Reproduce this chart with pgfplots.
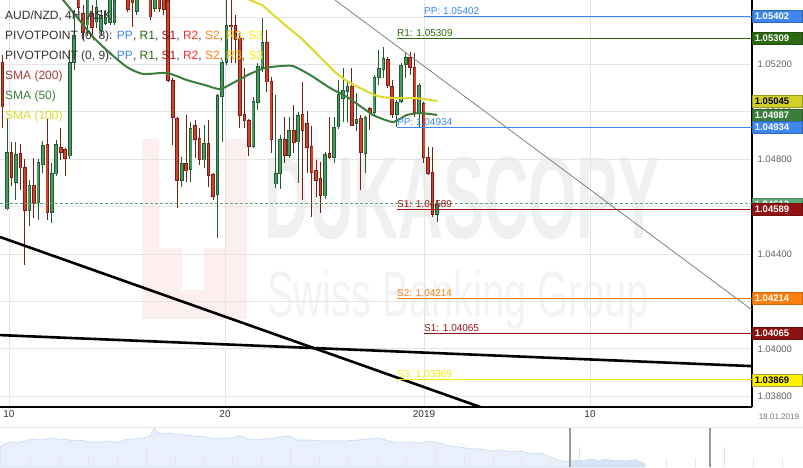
\documentclass[border=0pt]{standalone}
\usepackage{pgfplots}
\pgfplotsset{compat=1.18}
\usepackage{pgfplotstable}
\usepackage{graphicx}
\usepackage{fontspec}
\setmainfont{Liberation Sans}

\definecolor{gbody}{HTML}{4C9A63}
\definecolor{gdark}{HTML}{1F5A30}
\definecolor{rbody}{HTML}{D2432C}
\definecolor{rdark}{HTML}{7A1D12}
\definecolor{ppblue}{HTML}{3D87EE}
\definecolor{r1green}{HTML}{2B6A12}
\definecolor{s1red}{HTML}{A31515}
\definecolor{r2red}{HTML}{FF2A2A}
\definecolor{s2orange}{HTML}{FF7F0F}
\definecolor{r3gold}{HTML}{F0C000}
\definecolor{s3yellow}{HTML}{F5EE00}
\definecolor{sma50}{HTML}{3B7D3B}
\definecolor{sma100}{HTML}{DCDA2A}
\definecolor{sma200}{HTML}{A83A3A}
\definecolor{gridc}{HTML}{E4E4E4}
\definecolor{cur}{HTML}{5FA878}
\definecolor{txt}{HTML}{333333}
\definecolor{wmpink}{HTML}{FDEFEF}
\definecolor{wmgray}{HTML}{F0F0F0}
\definecolor{wmgray2}{HTML}{F3F3F3}
\definecolor{navfill}{HTML}{E9F0FB}
\definecolor{navsel}{HTML}{D6E4F8}
\definecolor{navline}{HTML}{C5D7F2}

% candles: i = candle number (x pixel = 2.5 + 4.48 i), O H L C
\pgfplotstableread{
i O H L C
1 1.04590 1.04974 1.04585 1.04831
3 1.04704 1.04873 1.04628 1.04822
6 1.04582 1.04712 1.04518 1.04691
8 1.04615 1.04801 1.04544 1.04788
9 1.04780 1.04877 1.04742 1.04860
11 1.04577 1.04784 1.04531 1.04742
12 1.04738 1.04881 1.04729 1.04864
15 1.04814 1.05261 1.04800 1.05210
16 1.05210 1.05430 1.05177 1.05324
19 1.05367 1.05535 1.05320 1.05493
21 1.05379 1.05493 1.05354 1.05442
22 1.05345 1.05430 1.05320 1.05409
23 1.05375 1.05430 1.05367 1.05400
24 1.05379 1.05514 1.05367 1.05493
25 1.05379 1.05514 1.05367 1.05472
27 1.05514 1.05599 1.05493 1.05577
30 1.05421 1.05535 1.05409 1.05493
31 1.05485 1.05577 1.05472 1.05556
34 1.05438 1.05523 1.05421 1.05493
40 1.04712 1.04809 1.04683 1.04784
42 1.04755 1.04957 1.04704 1.04932
45 1.04797 1.04944 1.04763 1.04869
48 1.04649 1.05075 1.04468 1.05071
49 1.05063 1.05219 1.04873 1.05210
50 1.05210 1.05480 1.05198 1.05366
56 1.04856 1.05063 1.04850 1.05046
57 1.05042 1.05206 1.05008 1.05193
58 1.05189 1.05396 1.05168 1.05295
61 1.04696 1.05071 1.04679 1.04742
62 1.04738 1.04902 1.04675 1.04885
64 1.04814 1.04978 1.04805 1.04923
66 1.04873 1.04999 1.04700 1.04987
72 1.04645 1.04831 1.04632 1.04822
74 1.04809 1.04978 1.04784 1.04936
75 1.04936 1.05134 1.04930 1.05075
76 1.05058 1.05185 1.04957 1.05092
77 1.05084 1.05134 1.04957 1.05109
79 1.04949 1.05080 1.04919 1.04970
81 1.04826 1.04982 1.04742 1.04978
83 1.04999 1.05156 1.04987 1.05147
84 1.05147 1.05261 1.05113 1.05185
85 1.05177 1.05274 1.05143 1.05227
88 1.04987 1.05050 1.04936 1.05042
89 1.05042 1.05206 1.05037 1.05198
90 1.05198 1.05253 1.05143 1.05231
93 1.04995 1.05122 1.04936 1.05113
97 1.04565 1.04628 1.04535 1.04612
}\greenc

\pgfplotstableread{
i O H L C
0 1.05210 1.05240 1.04932 1.05020
2 1.04831 1.04873 1.04691 1.04721
4 1.04826 1.04864 1.04670 1.04763
5 1.04767 1.04801 1.04354 1.04582
7 1.04691 1.04805 1.04552 1.04615
10 1.04864 1.04970 1.04544 1.04577
13 1.04852 1.04932 1.04797 1.04831
14 1.04843 1.04847 1.04729 1.04805
17 1.05493 1.05535 1.05409 1.05442
18 1.05417 1.05451 1.05303 1.05333
20 1.05417 1.05451 1.05312 1.05354
26 1.05556 1.05577 1.05485 1.05506
28 1.05493 1.05535 1.05421 1.05430
29 1.05506 1.05535 1.05358 1.05459
32 1.05556 1.05577 1.05480 1.05493
33 1.05493 1.05523 1.05388 1.05400
35 1.05493 1.05514 1.05421 1.05438
36 1.05485 1.05506 1.05409 1.05430
37 1.05472 1.05493 1.05126 1.05134
38 1.05134 1.05142 1.04860 1.04974
39 1.04974 1.04978 1.04594 1.04712
41 1.04784 1.04987 1.04704 1.04750
43 1.04944 1.04966 1.04805 1.04885
44 1.04890 1.04932 1.04776 1.04797
46 1.04869 1.04966 1.04683 1.04733
47 1.04738 1.04742 1.04628 1.04645
51 1.05366 1.05480 1.05206 1.05358
52 1.05366 1.05409 1.05206 1.05303
53 1.05312 1.05333 1.04932 1.04987
54 1.04991 1.05185 1.04932 1.04961
55 1.04966 1.04970 1.04814 1.04856
59 1.05295 1.05345 1.05084 1.05126
60 1.05130 1.05147 1.04826 1.04885
63 1.04885 1.04978 1.04784 1.04814
65 1.04923 1.05029 1.04826 1.04869
67 1.04991 1.05126 1.04628 1.04919
68 1.04953 1.05004 1.04742 1.04852
69 1.04856 1.04940 1.04556 1.04742
70 1.04755 1.04797 1.04641 1.04712
71 1.04721 1.04788 1.04573 1.04645
73 1.04826 1.04978 1.04801 1.04809
78 1.05109 1.05185 1.04940 1.04944
80 1.04974 1.04987 1.04670 1.04826
82 1.05016 1.05020 1.04923 1.04999
86 1.05223 1.05231 1.05101 1.05113
87 1.05109 1.05134 1.04974 1.04987
91 1.05231 1.05253 1.05156 1.05185
92 1.05189 1.05248 1.04978 1.04995
94 1.05037 1.05042 1.04784 1.04809
95 1.04809 1.04852 1.04735 1.04742
96 1.04746 1.04852 1.04556 1.04565
}\redc

\pgfplotsset{
  wick/.style={draw=none, forget plot, error bars/.cd, y dir=both, y explicit, error mark=none,
     error bar style={solid, line width=0.9pt, draw=#1}},
  bodyo/.style={draw=none, forget plot, error bars/.cd, y dir=both, y explicit, error mark=none,
     error bar style={solid, line width=3.6pt, draw=#1}},
  bodyi/.style={draw=none, forget plot, error bars/.cd, y dir=both, y explicit, error mark=none,
     error bar style={solid, line width=1.8pt, draw=#1}},
}

\newcommand{\pbox}[4]{% price, fill, text colour, border
  \node[anchor=west, fill=#2, draw=#4, line width=0.6pt, text=#3,
        font=\bfseries\fontsize{9.5}{11}\selectfont, minimum height=12pt,
        text width=45pt, inner xsep=2.5pt, inner ysep=0pt, align=left]
        at (axis cs:752,#1) {#1};}

\begin{document}
\begin{tikzpicture}
\clip (0pt,0pt) rectangle (803pt,-467pt);
\fill[white] (0pt,0pt) rectangle (803pt,-467pt);
% watermark
\fill[wmpink] (142pt,-139pt) rectangle (247pt,-319pt);
\fill[white] (159pt,-139pt) rectangle (226pt,-248pt);
\fill[white] (182pt,-248pt) rectangle (204pt,-290pt);
\node[anchor=base, inner sep=0pt, text=wmgray, font=\bfseries\fontsize{117}{117}\selectfont]
  at (462pt,-238pt) {\scalebox{0.528}[1]{DUKASCOPY}};
\node[anchor=base, inner sep=0pt, text=wmgray2, font=\fontsize{64}{64}\selectfont]
  at (458pt,-316pt) {\scalebox{0.624}[1]{Swiss Banking Group}};

\begin{axis}[
  at={(0pt,0pt)}, anchor=north west, scale only axis,
  width=752pt, height=407pt,
  xmin=0, xmax=752, ymin=1.037545, ymax=1.05472,
  axis x line*=bottom, axis y line*=right,
  axis line style={-, black, line width=1.3pt},
  xtick={9,225,424,590}, xticklabels={10,20,2019,10},
  ytick={1.038,1.040,1.042,1.044,1.046,1.048,1.050,1.052,1.054},
  yticklabels={1.03800,1.04000,1.04200,1.04400,1.04600,1.04800,1.05000,1.05200,1.05400},
  major tick length=0pt,
  grid=major, major grid style={gridc, line width=0.9pt},
  clip mode=individual,
  xticklabel style={font=\fontsize{10}{12}\selectfont, text=txt},
  yticklabel style={font=\fontsize{9.5}{11}\selectfont, text=black!62, xshift=2pt},
]
% candles: wicks, bodies
\addplot[wick=gdark] table[x expr={2.5+4.48*\thisrow{i}}, y expr={(\thisrow{H}+\thisrow{L})/2}, y error expr={(\thisrow{H}-\thisrow{L})/2}] {\greenc};
\addplot[wick=rdark] table[x expr={2.5+4.48*\thisrow{i}}, y expr={(\thisrow{H}+\thisrow{L})/2}, y error expr={(\thisrow{H}-\thisrow{L})/2}] {\redc};
\addplot[bodyo=gdark] table[x expr={2.5+4.48*\thisrow{i}}, y expr={(\thisrow{O}+\thisrow{C})/2}, y error expr={abs(\thisrow{C}-\thisrow{O})/2+0.000012}] {\greenc};
\addplot[bodyo=rdark] table[x expr={2.5+4.48*\thisrow{i}}, y expr={(\thisrow{O}+\thisrow{C})/2}, y error expr={abs(\thisrow{C}-\thisrow{O})/2+0.000012}] {\redc};
\addplot[bodyi=gbody] table[x expr={2.5+4.48*\thisrow{i}}, y expr={(\thisrow{O}+\thisrow{C})/2}, y error expr={max(abs(\thisrow{C}-\thisrow{O})/2-0.000025,0)}] {\greenc};
\addplot[bodyi=rbody] table[x expr={2.5+4.48*\thisrow{i}}, y expr={(\thisrow{O}+\thisrow{C})/2}, y error expr={max(abs(\thisrow{C}-\thisrow{O})/2-0.000025,0)}] {\redc};

% current price
\addplot[cur, line width=0.8pt, dash pattern=on 3pt off 2pt] coordinates {(0,1.04612) (752,1.04612)};

% SMA 50 and SMA 100
\addplot[sma50, line width=2pt, smooth, tension=0.4] coordinates {
(50,1.05523) (63,1.05472) (77,1.05400) (93,1.05316) (110,1.05248) (127,1.05189)
(143,1.05160) (167,1.05164) (187,1.05134) (205,1.05113) (220,1.05096) (233,1.05122)
(250,1.05160) (265,1.05185) (280,1.05193) (293,1.05193) (310,1.05156) (330,1.05101)
(347,1.05063) (360,1.05025) (373,1.04987) (385,1.04966) (393,1.04957) (400,1.04970)
(407,1.04987) (420,1.04995) (437,1.04987)};
\addplot[sma100, line width=2pt, smooth, tension=0.4] coordinates {
(240,1.05514) (250,1.05472) (262,1.05451) (270,1.05421) (285,1.05367) (303,1.05303)
(323,1.05219) (335,1.05168) (347,1.05130) (360,1.05101) (377,1.05067) (393,1.05058)
(413,1.05058) (425,1.05054) (437,1.05045)};

% trend lines
\addplot[black!50, line width=0.8pt] coordinates {(320,1.05519) (752,1.04164)};
\addplot[black, line width=2.6pt] coordinates {(0,1.04472) (500,1.03725)};
\addplot[black, line width=2.6pt] coordinates {(0,1.04058) (752,1.03927)};

% pivot lines
\addplot[ppblue, line width=1pt] coordinates {(424,1.05402) (752,1.05402)};
\addplot[r1green, line width=1pt] coordinates {(397,1.05309) (752,1.05309)};
\addplot[ppblue, line width=1pt] coordinates {(397,1.04934) (752,1.04934)};
\addplot[s1red, line width=1pt] coordinates {(397,1.04589) (752,1.04589)};
\addplot[s2orange, line width=1pt] coordinates {(397,1.04214) (752,1.04214)};
\addplot[s1red!90!black, line width=1pt] coordinates {(424,1.04065) (752,1.04065)};
\addplot[s3yellow, line width=1.2pt] coordinates {(397,1.03869) (752,1.03869)};

\begin{scope}[every node/.style={anchor=base west, inner sep=0pt, yshift=2pt, font=\fontsize{10}{12}\selectfont}]
\node[text=ppblue] at (axis cs:424,1.05402) {PP: 1.05402};
\node[text=r1green] at (axis cs:397,1.05309) {R1: 1.05309};
\node[text=ppblue] at (axis cs:397,1.04934) {PP: 1.04934};
\node[text=s1red] at (axis cs:397,1.04589) {S1: 1.04589};
\node[text=s2orange] at (axis cs:397,1.04214) {S2: 1.04214};
\node[text=s1red!90!black] at (axis cs:424,1.04065) {S1: 1.04065};
\node[text=s3yellow] at (axis cs:397,1.03869) {S3: 1.03869};
\end{scope}

% price boxes on the scale
\pbox{1.05402}{ppblue}{white}{ppblue!75!black}
\pbox{1.05309}{r1green}{white}{r1green!75!black}
\pbox{1.05045}{sma100!95!black}{black}{sma100!70!black}
\pbox{1.04987}{sma50}{white}{sma50!75!black}
\pbox{1.04934}{ppblue}{white}{ppblue!75!black}
\pbox{1.04612}{cur}{white}{cur!80!black}
\pbox{1.04589}{s1red!90!black}{white}{s1red!70!black}
\pbox{1.04214}{s2orange}{white}{s2orange!80!black}
\pbox{1.04065}{s1red!85!black}{white}{s1red!65!black}
\pbox{1.03869}{yellow}{black}{yellow!60!black}
\end{axis}

% legend text
\begin{scope}[every node/.style={anchor=base west, inner sep=0pt, font=\fontsize{12}{14}\selectfont, text=txt}]
\node at (5pt,-19.3pt) {AUD/NZD, 4H, ASK};
\node at (5pt,-39.5pt) {PIVOTPOINT (0, 8): \textcolor{ppblue}{PP}, \textcolor{r1green}{R1}, \textcolor{s1red}{S1}, \textcolor{r2red}{R2}, \textcolor{s2orange}{S2}, \textcolor{r3gold}{R3}, \textcolor{s3yellow}{S3}};
\node at (5pt,-59.5pt) {PIVOTPOINT (0, 9): \textcolor{ppblue}{PP}, \textcolor{r1green}{R1}, \textcolor{s1red}{S1}, \textcolor{r2red}{R2}, \textcolor{s2orange}{S2}, \textcolor{r3gold}{R3}, \textcolor{s3yellow}{S3}};
\node[text=sma200] at (5pt,-79.5pt) {SMA (200)};
\node[text=sma50] at (5pt,-99.5pt) {SMA (50)};
\node[text=sma100] at (5pt,-119.3pt) {SMA (100)};
\end{scope}
\node[font=\fontsize{8}{9}\selectfont, text=black!55, inner sep=0pt] at (779pt,-416.5pt) {18.01.2019};

% navigator
\begin{axis}[
  at={(0pt,-427pt)}, anchor=north west, scale only axis,
  width=803pt, height=40pt, xmin=0, xmax=803, ymin=0, ymax=40,
  axis lines=none,
]
\addplot[draw=navline, fill=navfill, line width=0.6pt] coordinates {
(0,20) (5,23) (10,25) (18,24) (25,26) (31,28) (40,27) (51,29) (60,27) (66,28) (72,26)
(80,27) (90,25) (102,25) (110,26) (118,24) (123,27) (132,28) (143,29) (150,31) (154,39)
(157,35) (162,33) (168,34) (174,33) (185,32) (195,31) (205,30) (215,28) (225,29) (230,28)
(236,31) (241,31) (248,28) (256,27) (265,28) (275,29) (287,31) (292,30) (297,27) (310,27)
(320,26) (333,26) (345,26) (358,27) (368,28) (379,29) (389,26) (399,24) (410,25) (420,24)
(428,26) (435,25) (442,23) (451,21) (460,20) (471,18) (480,18) (492,16) (500,17) (512,15)
(520,16) (533,13) (540,14) (548,11) (553,9) (558,7) (563,6) (568,5) (570,5.5)} \closedcycle;
\addplot[draw=navline, fill=navsel, line width=0.6pt] coordinates {
(570,5.5) (572,6) (579,7) (584,6) (589,8) (595,7) (599,6) (604,8) (609,7) (615,6) (620,7)
(625,6) (632,7) (637,7) (641,5) (645,3)} \closedcycle;
\addplot[ycomb, gridc, line width=0.8pt] coordinates {
(30.5,9) (59.4,9) (88.3,9) (117.2,9) (146.1,20) (175.0,9) (203.9,9) (232.8,9) (261.7,9)
(290.6,20) (319.5,9) (348.4,9) (377.3,9) (406.2,9) (435.1,20) (464.0,9) (492.9,9)
(521.8,9) (550.7,9) (579.6,20) (608.5,9) (637.4,9) (666.3,9) (695.2,9) (724.1,20)
(753.0,9) (781.9,9)};
\addplot[ycomb, black!40, line width=1.2pt] coordinates {(570,40) (710,40)};
\addplot[gridc, line width=1pt] coordinates {(0,40) (803,40)};
\end{axis}
\end{tikzpicture}
\end{document}
